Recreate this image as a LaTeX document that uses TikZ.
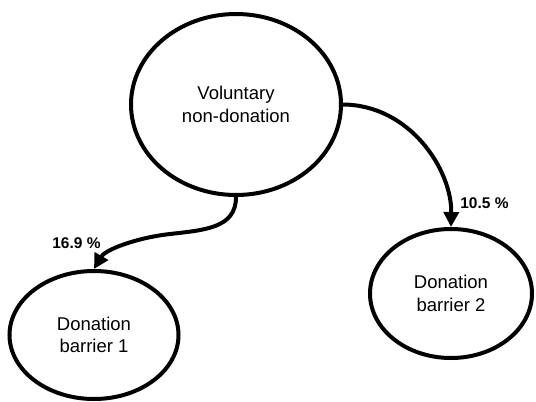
\documentclass[tikz,border=0pt]{standalone}
\usepackage{fontspec}
\setmainfont{Liberation Sans}
\usetikzlibrary{arrows.meta,shapes.geometric}
\begin{document}
\begin{tikzpicture}[x=1pt,y=-1pt,
  state/.style={ellipse,draw=black,line width=4pt,align=center,inner sep=0pt,
    font=\fontsize{18.5}{22.5}\selectfont},
  flow/.style={line width=4pt,-{Triangle[length=15pt,width=15pt]}},
  pct/.style={font=\fontsize{15.5}{18}\selectfont\bfseries}]
\useasboundingbox (0,0) rectangle (536,402);
\node[state,minimum width=210pt,minimum height=181pt] (top) at (236,104.5) {Voluntary\\non-donation};
\node[state,minimum width=169pt,minimum height=128pt] (b1) at (94,335) {Donation\\barrier 1};
\node[state,minimum width=162pt,minimum height=129pt] (b2) at (451,293.5) {Donation\\barrier 2};
\coordinate (mid) at (170,234);
\draw[flow] (top.south) .. controls (236,228) and (205,230) .. (mid)
  .. controls (135,238) and (105,250) .. (b1.north);
\draw[flow] (top.east) .. controls (410,105) and (452,170) .. (b2.north);
\node[pct] (l1) at (76.5,243) {16.9 \%};
\node[pct] (l2) at (484.5,203) {10.5 \%};
\end{tikzpicture}
\end{document}
